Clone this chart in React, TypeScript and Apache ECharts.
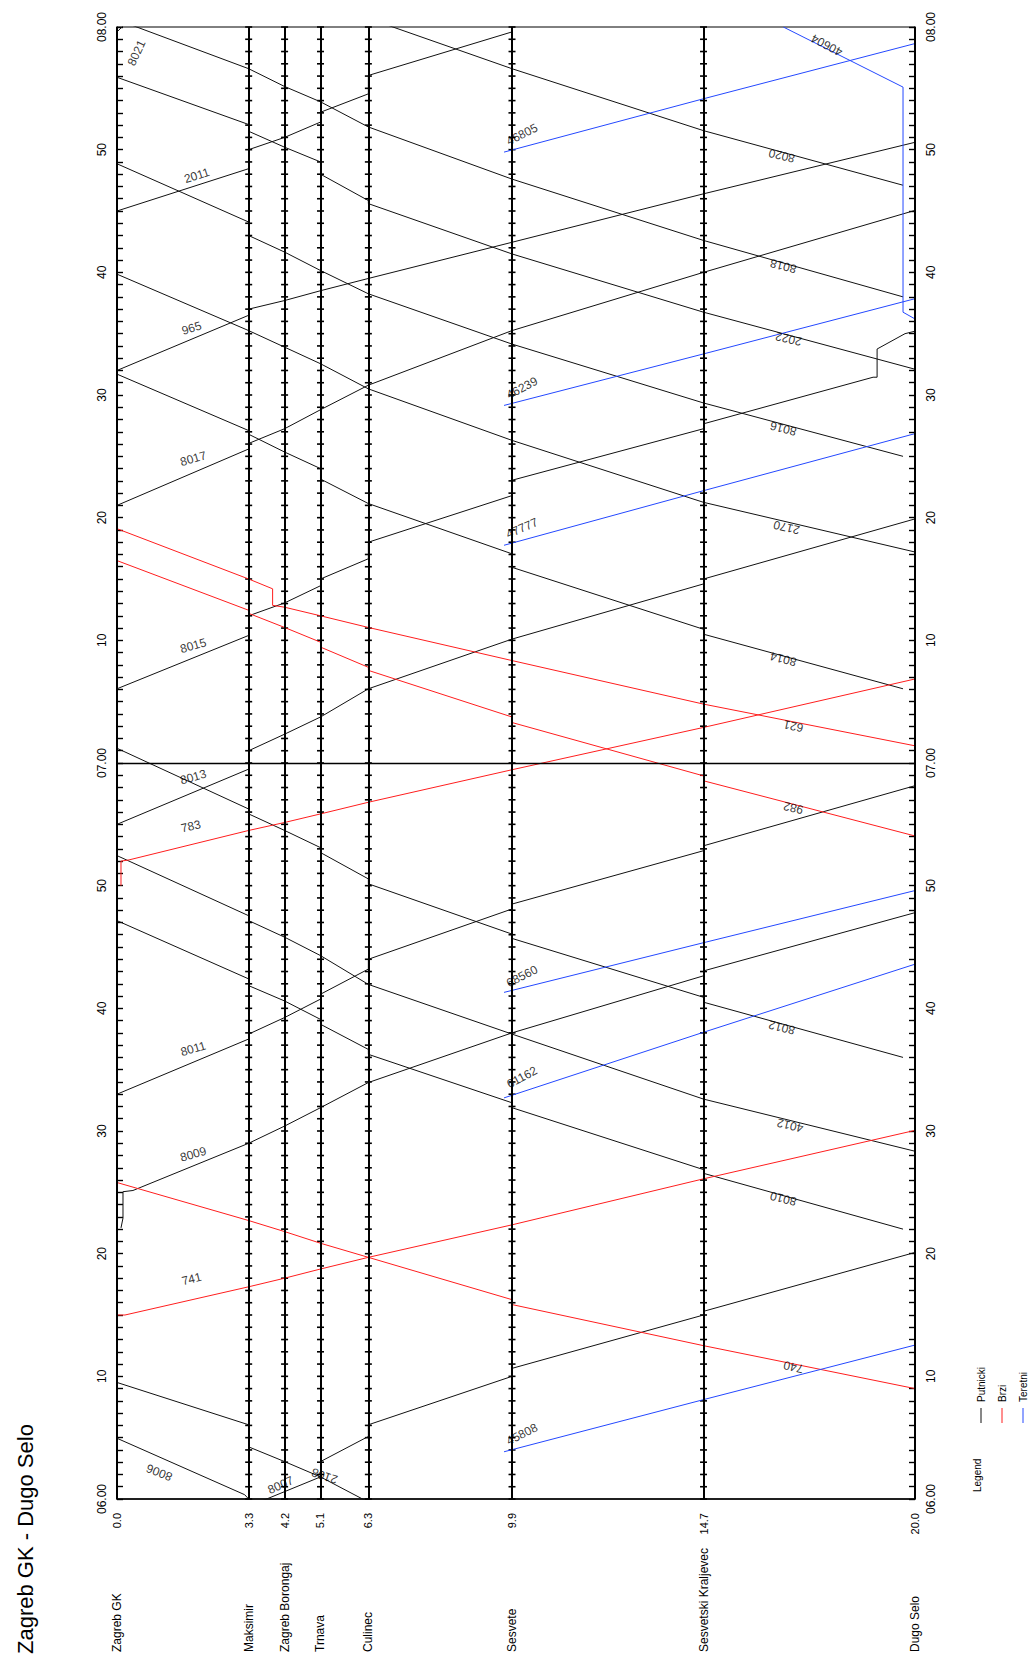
import React, { useEffect, useRef } from 'react';
import * as echarts from 'echarts';

// ---------- stations & axis ----------
const stationNames = ['Zagreb GK', 'Maksimir', 'Zagreb Borongaj', 'Trnava', 'Culinec', 'Sesvete', 'Sesvetski Kraljevec', 'Dugo Selo'];
const stationKm = [0, 3.3, 4.2, 5.1, 6.3, 9.9, 14.7, 20.0];
const timeTickLabels = ['06.00', '10', '20', '30', '40', '50', '07.00', '10', '20', '30', '40', '50', '08.00'];

// ---------- train paths: [km, minutes after 06:00] ----------
// Putnicki (passenger)
const p8021 = [[0, 119.6], [0.25, 120.4]];
const p2011 = [[0, 105.0], [3.3, 108.45], [3.3, 110.0], [4.2, 111.0], [5.1, 112.25], [5.1, 113.05], [6.3, 114.55], [6.3, 116.05], [9.9, 119.6], [9.9, 121]];
const p965 = [[0, 92.0], [3.3, 96.5], [3.3, 97.0], [4.2, 97.7], [5.1, 98.5], [6.3, 99.5], [9.9, 102.45], [14.7, 106.4], [20, 110.6]];
const p8017 = [[0, 81.0], [3.3, 85.6], [3.3, 86.05], [4.2, 87.25], [5.1, 88.8], [6.3, 90.8], [9.9, 95.25], [14.7, 100.0], [20, 105.05]];
const p8015 = [[0, 66.05], [3.3, 70.4], [3.3, 72.0], [4.2, 73.05], [5.1, 74.45], [5.1, 75.0], [6.3, 76.65], [6.3, 78.0], [9.9, 81.8], [9.9, 83.05], [14.7, 87.25], [14.7, 87.65], [18.95, 91.45], [19.05, 91.45], [19.05, 93.75], [19.75, 95.0], [20, 95.2]];
const p8013 = [[0, 55.0], [3.3, 59.5], [3.3, 61.0], [4.2, 62.35], [5.1, 63.75], [6.3, 66.05], [9.9, 70.1], [14.7, 74.6], [14.7, 75.0], [20, 79.9]];
const p8011 = [[0, 33.0], [3.3, 37.5], [3.3, 37.9], [4.2, 39.25], [5.1, 40.75], [5.1, 41.15], [6.3, 43.2], [6.3, 44.0], [9.9, 48.1], [9.9, 48.5], [14.7, 52.85], [14.7, 53.25], [20, 58.15]];
const p8009 = [[0.1, 22.1], [0.15, 22.9], [0.15, 25.05], [0.4, 25.15], [3.3, 29.0], [4.2, 30.4], [5.1, 31.9], [6.3, 33.95], [9.9, 38.0], [14.7, 42.65], [14.7, 43.05], [20, 47.8]];
const p8007 = [[3.3, -0.6], [5.1, 1.8], [5.1, 3.05], [6.3, 5.1], [6.3, 6.05], [9.9, 10.0], [9.9, 10.65], [14.7, 15.0], [14.7, 15.3], [20, 20.1]];
const p8020 = [[19.7, 107.1], [14.7, 111.55], [9.9, 116.6], [6.3, 120.7]];
const p8018 = [[19.7, 98.0], [14.7, 102.6], [9.9, 107.6], [6.3, 111.85], [5.1, 113.9], [4.2, 115.15], [3.3, 116.6], [0, 120.6]];
const p2022 = [[20, 92.1], [14.7, 96.75], [9.9, 101.5], [6.3, 105.6], [6.3, 105.85], [5.1, 108.0], [5.1, 109.0], [4.2, 110.2], [3.3, 111.5], [3.3, 112.05], [0, 115.9]];
const p8016 = [[19.7, 85.0], [14.7, 89.35], [9.9, 94.15], [6.3, 98.25], [5.1, 100.15], [4.2, 101.65], [3.3, 103.0], [3.3, 104.1], [0, 108.85]];
const p2170 = [[20, 77.2], [14.7, 81.25], [9.9, 86.3], [6.3, 90.5], [5.1, 92.55], [4.2, 93.9], [3.3, 95.25], [0, 99.85]];
const p8014 = [[19.7, 66.05], [14.7, 70.5], [14.7, 70.9], [9.9, 75.95], [9.9, 77.05], [6.3, 81.15], [5.1, 83.15], [5.1, 84.0], [4.2, 85.35], [3.3, 86.8], [3.3, 87.1], [0, 91.7]];
const p8012 = [[19.7, 36.0], [14.7, 40.5], [14.7, 40.9], [9.9, 45.7], [9.9, 46.05], [6.3, 50.15], [6.3, 50.55], [5.1, 52.7], [5.1, 53.1], [4.2, 54.5], [3.3, 55.85], [3.3, 56.25], [0, 61.2]];
const p4012 = [[20, 28.35], [14.7, 32.6], [9.9, 37.9], [6.3, 41.95], [5.1, 44.3], [4.2, 45.8], [3.3, 47.15], [3.3, 47.55], [0, 52.45]];
const p8010 = [[19.7, 22.0], [14.7, 26.55], [14.7, 26.85], [9.9, 31.9], [9.9, 32.3], [6.3, 36.25], [6.3, 36.65], [5.1, 38.7], [5.1, 39.1], [4.2, 40.6], [3.3, 41.85], [3.3, 42.4], [0, 47.15]];
const p2108 = [[6.3, -0.25], [5.1, 1.8], [4.2, 3.05], [3.3, 4.25], [3.3, 6.05], [0, 9.5]];
const p8006 = [[3.3, 0], [3.2, 0.35], [0, 4.95]];
// Brzi (fast)
const p783 = [[0.1, 50.0], [0.1, 52.0], [0.3, 52.1], [3.3, 54.5], [4.2, 55.15], [5.1, 55.85], [6.3, 56.8], [9.9, 59.45], [14.7, 62.9], [20, 66.85]];
const p741 = [[0, 15.0], [0.2, 15.0], [3.3, 17.3], [4.2, 18.0], [5.1, 18.75], [6.3, 19.7], [9.9, 22.35], [14.7, 26.1], [20, 30.05]];
const p740 = [[20, 9.0], [14.7, 12.5], [9.9, 15.85], [9.9, 16.25], [6.3, 19.7], [5.1, 20.85], [4.2, 21.8], [3.3, 22.7], [0, 25.8]];
const p621 = [[20, 61.4], [14.7, 64.8], [9.9, 68.35], [6.3, 71.05], [5.1, 72.0], [4.2, 72.7], [3.9, 72.85], [3.9, 74.2], [3.3, 75.0], [0, 79.1]];
const p982 = [[20, 54.05], [14.7, 58.55], [14.7, 58.95], [9.9, 63.3], [9.9, 63.75], [6.3, 67.55], [6.3, 67.8], [5.1, 69.45], [5.1, 69.85], [4.2, 71.05], [3.3, 72.2], [3.3, 72.45], [0, 76.5]];
// Teretni (freight)
const p45808 = [[9.7, 3.85], [14.7, 8.1], [20, 12.55]];
const p61162 = [[9.7, 32.7], [14.7, 38.05], [20, 43.6]];
const p68560 = [[9.7, 41.3], [14.7, 45.35], [20, 49.6]];
const p47777 = [[9.7, 77.75], [14.7, 82.2], [20, 86.85]];
const p46239 = [[9.7, 89.15], [14.7, 93.35], [20, 97.85]];
const p46805 = [[9.7, 109.8], [14.7, 114.15], [20, 118.65]];
const p40604 = [[20, 96.2], [19.7, 96.75], [19.7, 115.1], [16.7, 120]];

const trains = [
  { id: '8021', kind: 'P', path: p8021 }, { id: '2011', kind: 'P', path: p2011 },
  { id: '965', kind: 'P', path: p965 }, { id: '8017', kind: 'P', path: p8017 },
  { id: '8015', kind: 'P', path: p8015 }, { id: '8013', kind: 'P', path: p8013 },
  { id: '8011', kind: 'P', path: p8011 }, { id: '8009', kind: 'P', path: p8009 },
  { id: '8007', kind: 'P', path: p8007 }, { id: '8020', kind: 'P', path: p8020 },
  { id: '8018', kind: 'P', path: p8018 }, { id: '2022', kind: 'P', path: p2022 },
  { id: '8016', kind: 'P', path: p8016 }, { id: '2170', kind: 'P', path: p2170 },
  { id: '8014', kind: 'P', path: p8014 }, { id: '8012', kind: 'P', path: p8012 },
  { id: '4012', kind: 'P', path: p4012 }, { id: '8010', kind: 'P', path: p8010 },
  { id: '2108', kind: 'P', path: p2108 }, { id: '8006', kind: 'P', path: p8006 },
  { id: '783', kind: 'B', path: p783 }, { id: '741', kind: 'B', path: p741 },
  { id: '740', kind: 'B', path: p740 }, { id: '621', kind: 'B', path: p621 },
  { id: '982', kind: 'B', path: p982 },
  { id: '45808', kind: 'T', path: p45808 }, { id: '61162', kind: 'T', path: p61162 },
  { id: '68560', kind: 'T', path: p68560 }, { id: '47777', kind: 'T', path: p47777 },
  { id: '46239', kind: 'T', path: p46239 }, { id: '46805', kind: 'T', path: p46805 },
  { id: '40604', kind: 'T', path: p40604 },
];

const kindColor: Record<string, string> = { P: '#111111', B: '#ff1e1e', T: '#2448ff' };
const legendItems = [
  { name: 'Putnicki', kind: 'P' },
  { name: 'Brzi', kind: 'B' },
  { name: 'Teretni', kind: 'T' },
];

// label placement (style): km along the path, time offset, rotation
const trainLabels = [
  { id: '8021', km: 0.12, dk: 0.37, dt: -2.1, rot: 65 },
  { id: '2011', km: 2.0, dt: 0.8, rot: 18 },
  { id: '965', km: 1.87, dt: 0.9, rot: 17 },
  { id: '8017', km: 1.91, dt: 1.15, rot: 16 },
  { id: '8015', km: 1.91, dt: 1.0, rot: 16 },
  { id: '8013', km: 1.91, dt: 1.25, rot: 16 },
  { id: '783', km: 1.85, dt: 1.5, rot: 13 },
  { id: '8011', km: 1.91, dt: 1.1, rot: 16 },
  { id: '8009', km: 1.91, dt: 0.95, rot: 16 },
  { id: '741', km: 1.87, dt: 1.7, rot: 14 },
  { id: '8007', km: 4.1, dt: 0.67, rot: 24 },
  { id: '45808', km: 10.15, dt: 1.05, rot: 27 },
  { id: '61162', km: 10.15, dt: 1.2, rot: 28 },
  { id: '68560', km: 10.15, dt: 0.95, rot: 27 },
  { id: '47777', km: 10.15, dt: 1.0, rot: 24 },
  { id: '46239', km: 10.15, dt: 1.05, rot: 28 },
  { id: '46805', km: 10.15, dt: 1.05, rot: 27 },
  { id: '8020', km: 16.66, dt: -0.3, rot: 167 },
  { id: '8018', km: 16.7, dt: -0.25, rot: 166 },
  { id: '2022', km: 16.83, dt: -0.3, rot: 167 },
  { id: '8016', km: 16.7, dt: -0.35, rot: 166 },
  { id: '2170', km: 16.78, dt: -0.45, rot: 167 },
  { id: '8014', km: 16.7, dt: -0.25, rot: 166 },
  { id: '621', km: 16.95, dt: -0.35, rot: 168 },
  { id: '982', km: 16.95, dt: -0.3, rot: 167 },
  { id: '8012', km: 16.66, dt: -0.3, rot: 166 },
  { id: '4012', km: 16.87, dt: -0.4, rot: 167 },
  { id: '8010', km: 16.7, dt: -0.25, rot: 166 },
  { id: '740', km: 16.95, dt: -0.25, rot: 168 },
  { id: '40604', km: 17.79, dt: 0.3, rot: 152 },
  { id: '8006', km: 1.06, dt: -1.27, rot: 158 },
  { id: '2108', km: 5.2, dt: 0.25, rot: 162 },
];

const FONT = "'Liberation Sans', Arial, Helvetica, sans-serif";
const GRID = { left: 117, top: 27, width: 798, height: 1472 };

function tAt(path: number[][], km: number): number | null {
  for (let i = 0; i < path.length - 1; i++) {
    const [k1, t1] = path[i];
    const [k2, t2] = path[i + 1];
    if (k1 === k2) continue;
    if ((km - k1) * (km - k2) <= 0) return t1 + ((km - k1) / (k2 - k1)) * (t2 - t1);
  }
  return null;
}

function buildOption() {
  const timeFmt = (v: number) => timeTickLabels[Math.round(v / 10)] ?? '';
  const tickData: number[][] = [];
  for (let s = 1; s < stationKm.length - 1; s++) {
    for (let m = 0; m <= 120; m++) tickData.push([stationKm[s], m]);
  }

  const trainSeries = trains.map((tr) => ({
    type: 'line',
    name: tr.id,
    data: tr.path,
    showSymbol: false,
    symbol: 'none',
    silent: true,
    clip: true,
    z: 3,
    lineStyle: { color: kindColor[tr.kind], width: 1 },
  }));

  const labelData = trainLabels
    .map((lb) => {
      const tr = trains.find((x) => x.id === lb.id);
      if (!tr) return null;
      const t = tAt(tr.path, lb.km);
      if (t == null) return null;
      return {
        name: lb.id,
        value: [lb.km + ((lb as any).dk || 0), t + lb.dt],
        label: { rotate: lb.rot },
      };
    })
    .filter(Boolean);

  const yAxisBase = {
    type: 'value',
    min: 0,
    max: 120,
    interval: 10,
    splitLine: { show: false },
    axisLine: { show: true, onZero: false, lineStyle: { color: '#000', width: 1.5 } },
    axisTick: { show: true, inside: true, length: 6, lineStyle: { color: '#000', width: 1.4 } },
    minorTick: { show: true, splitNumber: 10, length: 6, lineStyle: { color: '#000', width: 1.4 } },
    axisLabel: { rotate: 90, margin: 9, formatter: timeFmt, color: '#000', fontSize: 12, fontFamily: FONT, showMinLabel: true, showMaxLabel: true },
  };

  return {
    animation: false,
    backgroundColor: '#ffffff',
    grid: { ...GRID, show: true, borderColor: '#000', borderWidth: 1, backgroundColor: 'transparent', containLabel: false },
    xAxis: [
      {
        type: 'value', min: 0, max: 20, position: 'bottom',
        splitLine: { show: false },
        axisTick: { show: false },
        axisLine: { show: true, onZero: false, lineStyle: { color: '#000', width: 1.5 } },
        axisLabel: {
          customValues: stationKm, rotate: 90, margin: 14,
          formatter: (v: number) => v.toFixed(1),
          color: '#000', fontSize: 11, fontFamily: FONT, showMinLabel: true, showMaxLabel: true,
        },
      },
      {
        type: 'value', min: 0, max: 20, position: 'bottom',
        splitLine: { show: false },
        axisTick: { show: false },
        axisLine: { show: false },
        axisLabel: {
          customValues: stationKm, rotate: 90, margin: 153, align: 'left', verticalAlign: 'middle',
          formatter: (v: number) => {
            const i = stationKm.findIndex((k) => Math.abs(k - v) < 1e-6);
            return i >= 0 ? stationNames[i] : '';
          },
          color: '#000', fontSize: 12, fontFamily: FONT, showMinLabel: true, showMaxLabel: true,
        },
      },
    ],
    yAxis: [
      { ...yAxisBase, position: 'left' },
      { ...yAxisBase, position: 'right', axisLabel: { ...yAxisBase.axisLabel, margin: 10 } },
    ],
    graphic: [
      {
        type: 'text', x: 25, y: 1654, rotation: Math.PI / 2,
        style: { text: 'Zagreb GK - Dugo Selo', font: `22px ${FONT}`, fill: '#000', align: 'left', verticalAlign: 'middle', textAlign: 'left', textVerticalAlign: 'middle' },
      },
      {
        type: 'text', x: 977, y: 1492, rotation: Math.PI / 2,
        style: { text: 'Legend', font: `10px ${FONT}`, fill: '#000', align: 'left', verticalAlign: 'middle', textAlign: 'left', textVerticalAlign: 'middle' },
      },
      ...legendItems.flatMap((it, i) => {
        const x = 981 + i * 21;
        return [
          { type: 'line', shape: { x1: x, y1: 1408, x2: x, y2: 1423 }, style: { stroke: kindColor[it.kind], lineWidth: 1 } },
          {
            type: 'text', x, y: 1402, rotation: Math.PI / 2,
            style: { text: it.name, font: `10px ${FONT}`, fill: '#000', align: 'left', verticalAlign: 'middle', textAlign: 'left', textVerticalAlign: 'middle' },
          },
        ];
      }),
    ],
    series: [
      {
        type: 'scatter',
        name: 'stations',
        data: tickData,
        symbol: 'rect',
        symbolSize: [7, 1.6],
        silent: true,
        z: 2,
        itemStyle: { color: '#000', opacity: 1 },
        markLine: {
          silent: true,
          symbol: ['none', 'none'],
          label: { show: false },
          emphasis: { disabled: true },
          lineStyle: { color: '#000', width: 2, type: 'solid' },
          data: [
            ...stationKm.map((km) => ({ xAxis: km })),
            { yAxis: 60, lineStyle: { color: '#000', width: 1.3, type: 'solid' } },
          ],
        },
      },
      ...trainSeries,
      {
        type: 'scatter',
        name: 'labels',
        data: labelData,
        symbol: 'circle',
        symbolSize: 1,
        silent: true,
        z: 5,
        itemStyle: { color: 'rgba(0,0,0,0)' },
        label: { show: true, position: 'inside', formatter: '{b}', color: '#000', fontSize: 12, fontFamily: FONT, align: 'center', verticalAlign: 'middle' },
        labelLayout: { hideOverlap: false },
      },
    ],
  };
}

export default function App() {
  const ref = useRef<HTMLDivElement>(null);
  useEffect(() => {
    if (!ref.current) return;
    const chart = echarts.init(ref.current, null, { renderer: 'svg' });
    chart.setOption(buildOption() as any);
    return () => chart.dispose();
  }, []);
  return (
    <div
      ref={ref}
      style={{ position: 'fixed', left: 0, top: 0, width: 1033, height: 1664, background: '#fff' }}
    />
  );
}
